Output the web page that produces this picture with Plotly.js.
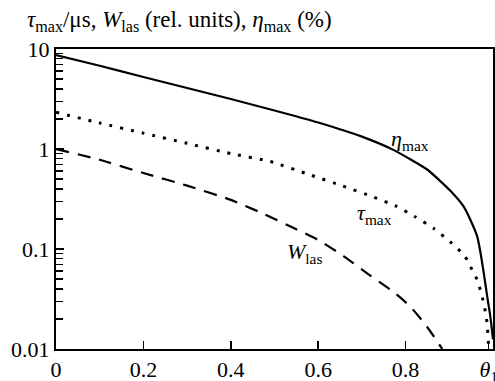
<!DOCTYPE html>
<html>
<head>
<meta charset="utf-8">
<script src="https://cdn.plot.ly/plotly-3.0.1.min.js"></script>
<style>html,body{margin:0;padding:0;background:#fff;}#chart{width:495px;height:381px;}</style>
</head>
<body>
<div id="chart"></div>
<script>
// eta_max (%) — solid
const etaX = [0, 0.1, 0.2, 0.3, 0.4, 0.5, 0.6, 0.7, 0.772, 0.85, 0.903, 0.933, 0.952, 0.964, 0.971, 0.979, 0.987, 0.994, 1.0];
const etaY = [8.7, 6.8, 5.25, 4.07, 3.16, 2.43, 1.84, 1.33, 0.98, 0.62, 0.38, 0.265, 0.18, 0.133, 0.094, 0.057, 0.033, 0.021, 0.0125];
// tau_max (us) — dotted
const tauX = [0, 0.1, 0.2, 0.3, 0.4, 0.49, 0.582, 0.654, 0.727, 0.777, 0.822, 0.864, 0.906, 0.926, 0.941, 0.952, 0.964, 0.971, 0.979, 0.983, 0.987, 0.99];
const tauY = [2.33, 1.82, 1.44, 1.14, 0.90, 0.75, 0.55, 0.43, 0.33, 0.27, 0.21, 0.161, 0.114, 0.094, 0.078, 0.062, 0.049, 0.039, 0.0286, 0.0228, 0.0174, 0.0102];
// W_las (rel. units) — dashed
const wX = [0, 0.1, 0.2, 0.3, 0.4, 0.47, 0.544, 0.6, 0.658, 0.712, 0.773, 0.811, 0.849, 0.884];
const wY = [1.0, 0.78, 0.575, 0.43, 0.31, 0.23, 0.162, 0.123, 0.085, 0.057, 0.037, 0.0265, 0.0167, 0.0100];

const xTickVals = [0, 0.2, 0.4, 0.6, 0.8, 0.99];
const xTickText = ['0', '0.2', '0.4', '0.6', '0.8', '<i>θ</i><sub>1</sub>'];
const yTickVals = [0.01, 0.1, 1, 10];
const yTickText = ['0.01', '0.1', '1', '10'];
const yMinorVals = [0.02,0.03,0.04,0.05,0.06,0.07,0.08,0.09,0.2,0.3,0.4,0.5,0.6,0.7,0.8,0.9,2,3,4,5,6,7,8,9];

const labels = [
  {text: '<i>η</i><sub>max</sub>', x: 0.81, y: 1.23},
  {text: '<i>τ</i><sub>max</sub>', x: 0.728, y: 0.225},
  {text: '<i>W</i><sub>las</sub>', x: 0.568, y: 0.092}
];

const FONT = 'Liberation Serif';

const traces = [
  {x: etaX, y: etaY, mode: 'lines', line: {color: '#000', width: 2.2, shape: 'spline', smoothing: 0.5}, hoverinfo: 'skip'},
  {x: tauX, y: tauY, mode: 'lines', line: {color: '#000', width: 3, dash: '3px,8px', shape: 'spline', smoothing: 0.5}, hoverinfo: 'skip'},
  {x: wX, y: wY, mode: 'lines', line: {color: '#000', width: 2.2, dash: '13px,9px', shape: 'spline', smoothing: 0.5}, hoverinfo: 'skip'}
];

const layout = {
  width: 495, height: 381,
  margin: {l: 56, r: 2, t: 49, b: 32},
  paper_bgcolor: '#fff', plot_bgcolor: '#fff',
  showlegend: false,
  font: {family: FONT, size: 22, color: '#000'},
  title: {
    text: '<i>τ</i><sub>max</sub>/μs, <i>W</i><sub>las</sub> (rel. units), <i>η</i><sub>max</sub> (%)',
    xref: 'container', yref: 'container', x: 27/495, xanchor: 'left', y: 1 - 19/381, yanchor: 'middle',
    font: {family: FONT, size: 23, color: '#000'}
  },
  xaxis: {
    range: [0, 1.0], showgrid: false, zeroline: false,
    showline: true, linecolor: '#000', linewidth: 2, mirror: true,
    ticks: 'inside', ticklen: 8, tickwidth: 1.5, tickcolor: '#000',
    tickmode: 'array', tickvals: xTickVals, ticktext: xTickText,
    ticklabeloverflow: 'allow',
    tickfont: {family: FONT, size: 22, color: '#000'}
  },
  yaxis: {
    type: 'log', range: [-2, 1], showgrid: false, zeroline: false,
    showline: true, linecolor: '#000', linewidth: 2, mirror: true,
    ticks: 'inside', ticklen: 8, tickwidth: 1.5, tickcolor: '#000',
    tickmode: 'array', tickvals: yTickVals, ticktext: yTickText,
    ticklabeloverflow: 'allow',
    tickfont: {family: FONT, size: 22, color: '#000'},
    minor: {tickmode: 'array', tickvals: yMinorVals, ticks: 'inside', ticklen: 7, tickwidth: 1.5, tickcolor: '#000', showgrid: false}
  },
  annotations: labels.map(l => ({
    text: l.text, x: l.x, y: Math.log10(l.y), xref: 'x', yref: 'y',
    showarrow: false, xanchor: 'center', yanchor: 'middle',
    font: {family: FONT, size: 22, color: '#000'}
  }))
};

Plotly.newPlot('chart', traces, layout, {staticPlot: true, displayModeBar: false});
</script>
</body>
</html>
